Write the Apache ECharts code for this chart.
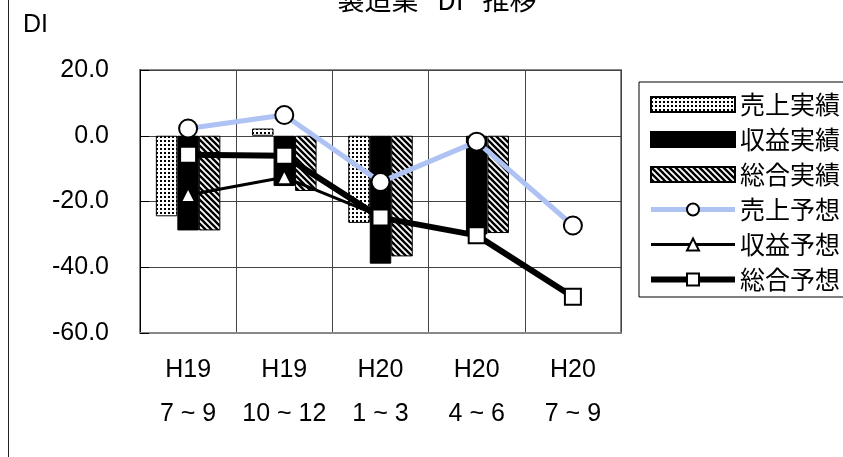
<!DOCTYPE html>
<html>
<head>
<meta charset="utf-8">
<script src="https://cdn.jsdelivr.net/npm/echarts@6/dist/echarts.min.js"></script>
<style>html,body{margin:0;padding:0;background:#fff;}#c{width:843px;height:457px;}</style>
</head>
<body>
<div id="c"></div>
<script>
// ---- data ----
const years = ['H19', 'H19', 'H20', 'H20', 'H20'];
const months = ['7 ~ 9', '10 ~ 12', '1 ~ 3', '4 ~ 6', '7 ~ 9'];
const salesActual = [-24.5, 2.2, -26.5, null, null];   // 売上実績
const profitActual = [-28.8, -15.3, -38.9, -30, null]; // 収益実績
const totalActual = [-28.8, -16.8, -36.7, -29.6, null]; // 総合実績
const salesForecast = [2.2, 6.3, -14.1, -1.8, -27.3];   // 売上予想
const profitForecast = [-18, -12.6, -24.5, null, null]; // 収益予想
const totalForecast = [-5.8, -6.1, -24.9, -30.3, -49];  // 総合予想
const seriesNames = ['売上実績', '収益実績', '総合実績', '売上予想', '収益予想', '総合予想'];
const titleText = '製造業 "DI" 推移';
const yTicks = {min: -60, max: 20, interval: 20};

const categories = years.map((y, i) => y + '\n' + months[i]);

function dotPattern() {
  const c = document.createElement('canvas'); c.width = 4; c.height = 4;
  const g = c.getContext('2d');
  g.fillStyle = '#fff'; g.fillRect(0, 0, 4, 4);
  g.fillStyle = '#000'; g.fillRect(0, 0, 2, 2);
  return c;
}
function stripePattern() {
  const s = 6;
  const c = document.createElement('canvas'); c.width = s; c.height = s;
  const g = c.getContext('2d');
  g.fillStyle = '#fff'; g.fillRect(0, 0, s, s);
  g.strokeStyle = '#000'; g.lineWidth = 2.4;
  for (const k of [-s, 0, s]) {
    g.beginPath(); g.moveTo(-1, k - 1); g.lineTo(s + 1, s + k + 1); g.stroke();
  }
  return c;
}

const font = 'Liberation Sans';
const cjk = 'Noto Sans CJK JP';
const chart = echarts.init(document.getElementById('c'), null, {renderer: 'canvas'});

const salesLine = {color: '#aec2f3', width: 5};
const profitLine = {color: '#000', width: 3};
const totalLine = {color: '#000', width: 6};

const barBase = {type: 'bar', barWidth: 21.5, barGap: '0%', z: 2};
chart.setOption({
  animation: false,
  backgroundColor: '#fff',
  grid: {left: 140, top: 70, right: 222, bottom: 124, show: true, borderColor: '#888', borderWidth: 2, backgroundColor: 'transparent'},
  legend: {
    orient: 'vertical', left: 639, top: 82,
    padding: [10, 40, 5, 9],
    borderColor: '#000', borderWidth: 1,
    itemWidth: 84, itemHeight: 15, itemGap: 10,
    textStyle: {fontFamily: cjk, fontSize: 25, color: '#000', lineHeight: 24},
    data: [
      {name: seriesNames[0], icon: 'rect'},
      {name: seriesNames[1], icon: 'rect'},
      {name: seriesNames[2], icon: 'rect'},
      {name: seriesNames[3], lineStyle: salesLine},
      {name: seriesNames[4], lineStyle: profitLine},
      {name: seriesNames[5], lineStyle: totalLine}
    ]
  },
  graphic: [
    {type: 'text', x: 437, y: 0, style: {text: titleText, fontFamily: cjk, fontSize: 27, fill: '#000', align: 'center', verticalAlign: 'middle'}},
    {type: 'text', x: 23, y: 25, style: {text: 'DI', fontFamily: font, fontSize: 25, fill: '#000', align: 'left', verticalAlign: 'middle'}},
    {type: 'line', shape: {x1: 8.5, y1: 0, x2: 8.5, y2: 457}, style: {stroke: '#222', lineWidth: 1}}
  ],
  xAxis: {
    type: 'category', data: categories,
    axisLine: {onZero: false, lineStyle: {color: '#888', width: 2}},
    axisTick: {show: false},
    splitLine: {show: true, interval: 0, lineStyle: {color: '#444', width: 1}},
    axisLabel: {interval: 0, fontFamily: font, fontSize: 25, color: '#000', lineHeight: 44, margin: 15}
  },
  yAxis: {
    type: 'value', min: yTicks.min, max: yTicks.max, interval: yTicks.interval,
    axisLine: {show: true, onZero: false, lineStyle: {color: '#000', width: 1}},
    axisTick: {show: true, inside: true, length: 9, lineStyle: {color: '#000'}},
    splitLine: {show: true, lineStyle: {color: '#444', width: 1}},
    axisLabel: {fontFamily: font, fontSize: 25, color: '#000', margin: 31, formatter: v => v.toFixed(1)}
  },
  series: [
    Object.assign({}, barBase, {name: seriesNames[0], data: salesActual,
      itemStyle: {color: {image: dotPattern(), repeat: 'repeat'}, borderColor: '#000', borderWidth: 1}}),
    Object.assign({}, barBase, {name: seriesNames[1], data: profitActual,
      itemStyle: {color: '#000', borderColor: '#000', borderWidth: 1}}),
    Object.assign({}, barBase, {name: seriesNames[2], data: totalActual,
      itemStyle: {color: {image: stripePattern(), repeat: 'repeat'}, borderColor: '#000', borderWidth: 1}}),
    {type: 'line', name: seriesNames[3], data: salesForecast, z: 3,
      symbol: 'circle', symbolSize: 18,
      lineStyle: salesLine,
      itemStyle: {color: '#fff', borderColor: '#000', borderWidth: 2}},
    {type: 'line', name: seriesNames[4], data: profitForecast, z: 4,
      symbol: 'triangle', symbolSize: 14,
      lineStyle: profitLine,
      itemStyle: {color: '#fff', borderColor: '#000', borderWidth: 2}},
    {type: 'line', name: seriesNames[5], data: totalForecast, z: 5,
      symbol: 'rect', symbolSize: 16,
      lineStyle: totalLine,
      itemStyle: {color: '#fff', borderColor: '#000', borderWidth: 2}}
  ]
});
</script>
</body>
</html>
